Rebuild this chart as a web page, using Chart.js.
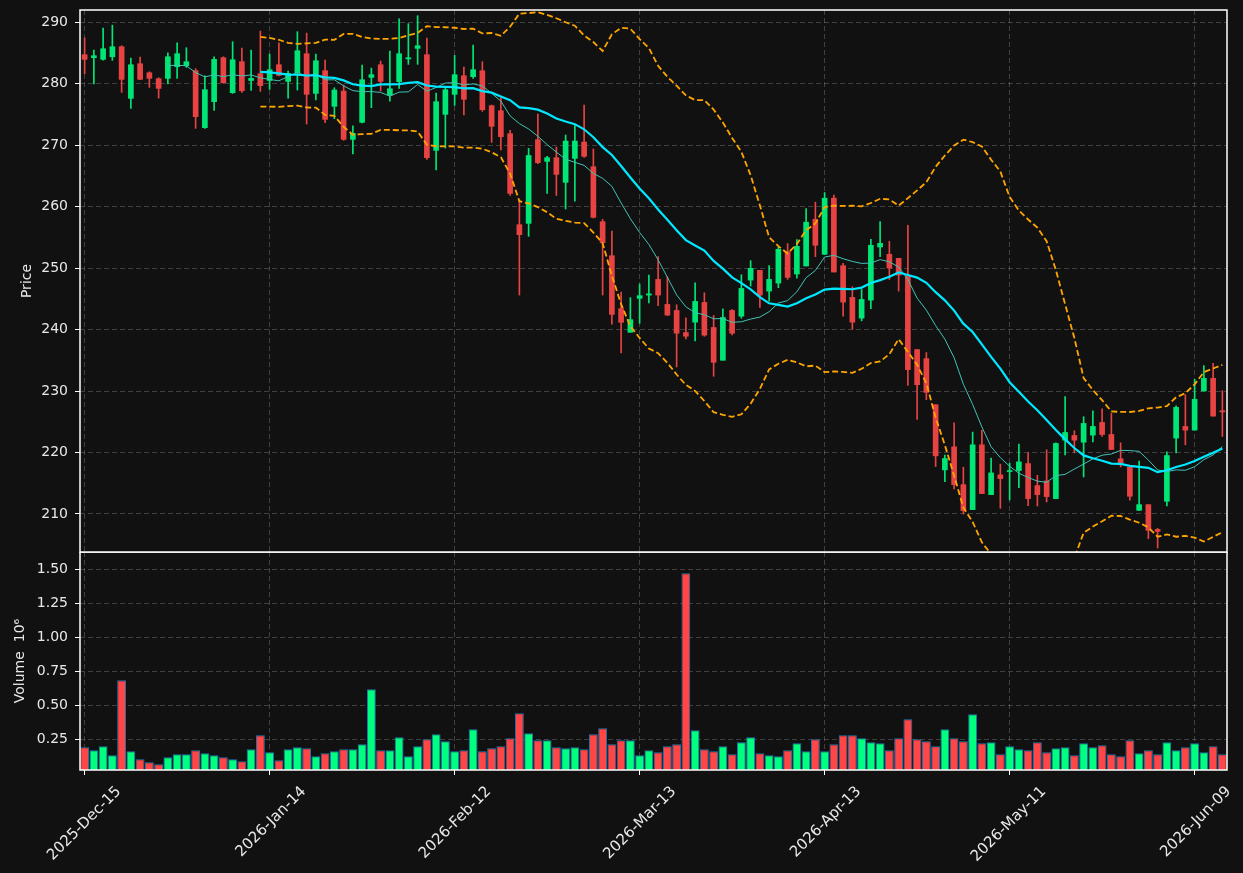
<!DOCTYPE html>
<html>
<head>
<meta charset="utf-8">
<title>Candlestick chart</title>
<script src="https://cdn.jsdelivr.net/npm/chart.js@4.4.1/dist/chart.umd.min.js"></script>
<style>
  html, body { margin: 0; padding: 0; background: #111111; }
  #wrap { position: relative; width: 1243px; height: 873px; overflow: hidden; }
  #priceChart { position: absolute; left: 0; top: 0; }
  #volChart { position: absolute; left: 0; top: 552px; }
</style>
</head>
<body>
<div id="wrap">
  <canvas id="priceChart" width="1243" height="560" style="width:1243px;height:560px"></canvas>
  <canvas id="volChart" width="1243" height="321" style="width:1243px;height:321px"></canvas>
</div>
<script>
// trading days (NYSE calendar)
const dates = [
  '2025-Dec-15','2025-Dec-16','2025-Dec-17','2025-Dec-18','2025-Dec-19','2025-Dec-22','2025-Dec-23','2025-Dec-24','2025-Dec-26','2025-Dec-29',
  '2025-Dec-30','2025-Dec-31','2026-Jan-02','2026-Jan-05','2026-Jan-06','2026-Jan-07','2026-Jan-08','2026-Jan-09','2026-Jan-12','2026-Jan-13',
  '2026-Jan-14','2026-Jan-15','2026-Jan-16','2026-Jan-20','2026-Jan-21','2026-Jan-22','2026-Jan-23','2026-Jan-26','2026-Jan-27','2026-Jan-28',
  '2026-Jan-29','2026-Jan-30','2026-Feb-02','2026-Feb-03','2026-Feb-04','2026-Feb-05','2026-Feb-06','2026-Feb-09','2026-Feb-10','2026-Feb-11',
  '2026-Feb-12','2026-Feb-13','2026-Feb-17','2026-Feb-18','2026-Feb-19','2026-Feb-20','2026-Feb-23','2026-Feb-24','2026-Feb-25','2026-Feb-26',
  '2026-Feb-27','2026-Mar-02','2026-Mar-03','2026-Mar-04','2026-Mar-05','2026-Mar-06','2026-Mar-09','2026-Mar-10','2026-Mar-11','2026-Mar-12',
  '2026-Mar-13','2026-Mar-16','2026-Mar-17','2026-Mar-18','2026-Mar-19','2026-Mar-20','2026-Mar-23','2026-Mar-24','2026-Mar-25','2026-Mar-26',
  '2026-Mar-27','2026-Mar-30','2026-Mar-31','2026-Apr-01','2026-Apr-02','2026-Apr-06','2026-Apr-07','2026-Apr-08','2026-Apr-09','2026-Apr-10',
  '2026-Apr-13','2026-Apr-14','2026-Apr-15','2026-Apr-16','2026-Apr-17','2026-Apr-20','2026-Apr-21','2026-Apr-22','2026-Apr-23','2026-Apr-24',
  '2026-Apr-27','2026-Apr-28','2026-Apr-29','2026-Apr-30','2026-May-01','2026-May-04','2026-May-05','2026-May-06','2026-May-07','2026-May-08',
  '2026-May-11','2026-May-12','2026-May-13','2026-May-14','2026-May-15','2026-May-18','2026-May-19','2026-May-20','2026-May-21','2026-May-22',
  '2026-May-26','2026-May-27','2026-May-28','2026-May-29','2026-Jun-01','2026-Jun-02','2026-Jun-03','2026-Jun-04','2026-Jun-05','2026-Jun-08',
  '2026-Jun-09','2026-Jun-10','2026-Jun-11','2026-Jun-12'
];

const opens = [
  284.69, 284.20, 283.93, 284.36, 285.99, 277.59, 283.22, 281.76, 280.79, 280.84,
  282.74, 282.90, 282.09, 272.82, 277.05, 284.20, 278.51, 283.55, 280.50, 281.60,
  280.50, 283.06, 280.35, 281.76, 284.85, 278.40, 282.09, 276.29, 278.78, 270.92,
  273.69, 281.00, 283.06, 278.13, 280.30, 284.00, 285.72, 284.69, 269.13, 274.99,
  278.24, 281.27, 281.11, 282.09, 276.40, 275.58, 271.84, 257.05, 257.26, 270.87,
  267.34, 267.94, 263.93, 267.83, 270.49, 266.48, 257.53, 252.00, 243.39, 239.55,
  245.07, 245.60, 248.15, 244.08, 243.10, 239.51, 241.20, 244.40, 240.33, 235.00,
  243.10, 242.17, 248.04, 249.62, 246.25, 247.55, 252.66, 249.02, 250.33, 257.93,
  252.23, 261.36, 250.38, 245.22, 241.85, 244.78, 253.42, 252.23, 251.58, 248.70,
  236.74, 235.27, 227.77, 217.17, 220.92, 214.78, 210.71, 221.25, 213.15, 216.36,
  216.90, 217.07, 218.20, 214.62, 215.38, 212.50, 222.01, 222.77, 221.68, 222.83,
  224.89, 222.93, 218.97, 217.61, 210.60, 211.52, 207.50, 212.07, 222.34, 224.24,
  223.64, 230.00, 232.07, 226.79
];
const highs = [
  287.45, 285.45, 289.02, 289.50, 286.15, 284.15, 284.31, 281.92, 280.95, 285.01,
  286.64, 285.83, 282.41, 281.27, 284.36, 284.36, 286.80, 285.77, 285.45, 288.54,
  284.80, 286.64, 282.03, 288.43, 288.21, 284.80, 283.82, 279.32, 279.76, 273.14,
  283.00, 282.52, 283.66, 285.28, 290.54, 289.73, 291.03, 287.40, 278.46, 279.49,
  284.58, 282.68, 286.26, 283.55, 276.50, 277.70, 272.38, 260.89, 269.46, 275.04,
  268.16, 269.67, 271.63, 273.36, 276.50, 269.35, 257.91, 256.02, 246.10, 245.18,
  247.40, 248.86, 251.85, 248.59, 244.02, 241.90, 247.61, 245.98, 242.28, 243.37,
  243.26, 248.91, 251.20, 249.62, 250.38, 253.37, 253.97, 254.62, 259.67, 260.71,
  262.28, 261.85, 250.76, 246.96, 246.52, 254.67, 257.55, 254.35, 251.58, 256.96,
  236.74, 236.25, 227.77, 219.57, 224.84, 217.61, 223.32, 223.59, 219.08, 218.10,
  218.26, 221.36, 220.00, 216.30, 220.43, 221.58, 229.08, 223.53, 225.82, 226.79,
  227.12, 226.36, 221.58, 217.61, 218.59, 211.52, 207.66, 220.11, 227.61, 229.40,
  231.90, 234.13, 234.51, 230.05
];
const lows = [
  281.60, 279.92, 283.80, 283.77, 278.56, 275.96, 280.62, 279.38, 277.64, 279.92,
  280.84, 282.63, 272.71, 272.71, 275.64, 280.03, 278.40, 278.56, 278.89, 278.73,
  279.05, 281.22, 277.64, 278.94, 273.41, 277.32, 273.63, 274.28, 270.76, 268.54,
  273.58, 276.07, 278.78, 277.15, 279.21, 283.12, 283.12, 267.67, 265.94, 269.51,
  276.45, 274.88, 280.84, 275.47, 270.43, 269.19, 261.80, 245.61, 255.15, 266.96,
  262.14, 261.80, 259.60, 260.89, 268.00, 258.13, 245.61, 240.89, 236.18, 239.55,
  241.00, 244.31, 243.86, 242.30, 233.91, 238.48, 238.15, 238.91, 232.39, 235.00,
  239.13, 241.85, 247.07, 243.59, 244.62, 246.79, 248.15, 248.37, 250.33, 251.85,
  252.23, 249.35, 242.17, 240.05, 241.41, 243.37, 251.85, 248.15, 246.25, 230.92,
  225.38, 228.59, 217.72, 215.27, 214.08, 210.00, 210.71, 213.32, 213.15, 210.92,
  212.28, 214.29, 211.36, 211.30, 211.96, 212.50, 219.62, 219.95, 216.03, 221.74,
  222.61, 220.49, 217.66, 212.23, 210.60, 205.98, 204.46, 211.30, 219.95, 221.25,
  223.64, 230.00, 225.92, 222.61
];
const closes = [
  283.93, 284.53, 285.66, 285.99, 280.68, 283.06, 280.68, 280.84, 279.21, 284.36,
  284.85, 283.55, 274.61, 279.00, 283.93, 280.14, 283.87, 278.83, 280.84, 279.65,
  282.25, 281.33, 281.65, 285.34, 278.24, 283.71, 274.17, 278.94, 270.92, 271.90,
  280.62, 281.44, 280.35, 279.16, 284.85, 284.20, 286.15, 267.94, 277.05, 279.00,
  281.44, 277.43, 282.25, 275.75, 273.04, 271.35, 262.14, 255.42, 268.30, 267.13,
  267.94, 265.23, 270.65, 270.65, 268.16, 258.24, 254.12, 242.46, 241.17, 241.60,
  245.50, 245.80, 245.60, 242.34, 239.40, 238.91, 244.57, 239.08, 234.67, 241.96,
  239.40, 246.68, 249.95, 245.60, 248.15, 253.04, 248.48, 253.53, 257.45, 253.70,
  261.36, 249.35, 244.46, 241.20, 244.89, 253.70, 254.02, 250.00, 248.86, 233.48,
  231.03, 229.78, 219.46, 219.02, 214.78, 210.54, 221.25, 213.32, 216.68, 215.76,
  217.00, 218.48, 212.50, 213.15, 212.83, 221.47, 223.26, 222.01, 224.73, 224.24,
  222.93, 220.49, 218.32, 212.88, 211.52, 207.34, 207.17, 219.51, 227.34, 223.64,
  228.64, 232.07, 225.92, 226.60
];
const volumes = [
  191000, 169000, 199000, 132000, 684000, 162000, 103000, 81000, 66000, 118000,
  140000, 140000, 169000, 147000, 132000, 118000, 103000, 88000, 176000, 279000,
  154000, 96000, 176000, 191000, 184000, 125000, 147000, 162000, 176000, 176000,
  213000, 618000, 169000, 169000, 265000, 125000, 199000, 250000, 287000, 235000,
  162000, 169000, 324000, 162000, 184000, 199000, 257000, 441000, 294000, 243000,
  243000, 191000, 184000, 191000, 176000, 287000, 331000, 213000, 243000, 243000,
  132000, 169000, 154000, 199000, 213000, 1470000, 316000, 176000, 162000, 199000,
  140000, 228000, 265000, 147000, 132000, 125000, 169000, 221000, 162000, 250000,
  162000, 213000, 279000, 279000, 257000, 228000, 221000, 169000, 257000, 397000,
  250000, 235000, 199000, 324000, 257000, 235000, 434000, 221000, 228000, 140000,
  199000, 176000, 169000, 228000, 154000, 184000, 191000, 132000, 221000, 191000,
  206000, 140000, 125000, 243000, 147000, 169000, 140000, 228000, 169000, 191000,
  221000, 154000, 199000, 140000
];

const priceTicks = [210, 220, 230, 240, 250, 260, 270, 280, 290];
const volumeTicks = [250000, 500000, 750000, 1000000, 1250000, 1500000];
const tickEvery = 20;

// moving averages from the closes
function sma(vals, n) {
  return vals.map((v, i) => {
    if (i < n - 1) return null;
    let s = 0;
    for (let k = i - n + 1; k <= i; k++) s += vals[k];
    return s / n;
  });
}
function band(vals, n, mult) {
  const mid = sma(vals, n);
  return vals.map((v, i) => {
    if (mid[i] === null) return null;
    let s = 0;
    for (let k = i - n + 1; k <= i; k++) s += (vals[k] - mid[i]) ** 2;
    return mid[i] + mult * Math.sqrt(s / n);
  });
}
const ma20 = sma(closes, 20);
const ma10 = sma(closes, 10);
const bbUpper = band(closes, 20, 2);
const bbLower = band(closes, 20, -2);

const isUp = closes.map((c, i) => c >= opens[i]);
const candleUp = '#00e676', candleDown = '#e84343';
const volUp = '#00ff80', volDown = '#ff4646';
const gridColor = 'rgba(255,255,255,0.2)';
const textColor = '#e8e8e8';
const font = { family: 'DejaVu Sans', size: 14 };
const dateFont = { family: 'DejaVu Sans', size: 15 };

const frame = {
  id: 'frame',
  afterDraw(chart) {
    const { ctx, chartArea: a } = chart;
    ctx.save();
    ctx.strokeStyle = '#ffffff';
    ctx.lineWidth = 1.5;
    ctx.strokeRect(a.left, a.top, a.right - a.left, a.bottom - a.top);
    ctx.restore();
  }
};

const keepDateTicks = s => { s.ticks = s.ticks.filter(t => t.value % tickEvery === 0); };
// no extra room for label overhang, the panels must line up exactly
const noOverhang = s => { s.paddingTop = 0; s.paddingBottom = 0; s.paddingLeft = 0; s.paddingRight = 0; };

new Chart(document.getElementById('priceChart'), {
  type: 'bar',
  data: {
    labels: dates,
    datasets: [
      { type: 'line', data: ma20, borderColor: '#00e8ff', borderWidth: 2.2, pointRadius: 0, order: 0 },
      { type: 'line', data: ma10, borderColor: '#3fc4b6', borderWidth: 1, pointRadius: 0, order: 0 },
      { type: 'line', data: bbUpper, borderColor: '#ffa500', borderWidth: 1.8, borderDash: [6, 3], pointRadius: 0, order: 0 },
      { type: 'line', data: bbLower, borderColor: '#ffa500', borderWidth: 1.8, borderDash: [6, 3], pointRadius: 0, order: 0 },
      {
        data: opens.map((o, i) => [o, closes[i]]),
        backgroundColor: isUp.map(u => u ? candleUp : candleDown),
        barThickness: 5, minBarLength: 1, grouped: false, order: 1
      },
      {
        data: lows.map((l, i) => [l, highs[i]]),
        backgroundColor: isUp.map(u => u ? candleUp : candleDown),
        barThickness: 1, grouped: false, order: 2
      }
    ]
  },
  options: {
    responsive: false,
    animation: false,
    devicePixelRatio: 1,
    layout: { padding: { top: 10, right: 16, bottom: 8, left: 0 } },
    plugins: { legend: { display: false }, tooltip: { enabled: false } },
    scales: {
      x: {
        offset: true,
        afterBuildTicks: keepDateTicks,
        afterFit: s => { s.height = 0; noOverhang(s); },
        ticks: { display: false, autoSkip: false },
        grid: { color: gridColor, offset: false, drawTicks: false },
        border: { display: false, dash: [5, 3] }
      },
      y: {
        min: 203.82,
        max: 291.96,
        afterBuildTicks: s => { s.ticks = priceTicks.map(v => ({ value: v })); },
        afterFit: s => { s.width = 80; noOverhang(s); },
        ticks: { color: textColor, font: font, padding: 7 },
        grid: { color: gridColor, tickColor: '#ffffff', tickLength: 5 },
        border: { display: false, dash: [5, 3] },
        title: { display: true, text: 'Price', color: textColor, font: font, padding: { top: 19, bottom: 0 } }
      }
    }
  },
  plugins: [frame]
});

new Chart(document.getElementById('volChart'), {
  type: 'bar',
  data: {
    labels: dates,
    datasets: [{
      data: volumes,
      backgroundColor: isUp.map(u => u ? volUp : volDown),
      borderColor: '#1f77b4',
      borderWidth: 1,
      barPercentage: 0.96,
      categoryPercentage: 1
    }]
  },
  options: {
    responsive: false,
    animation: false,
    devicePixelRatio: 1,
    layout: { padding: { top: 0, right: 16, bottom: 0, left: 0 } },
    plugins: { legend: { display: false }, tooltip: { enabled: false } },
    scales: {
      x: {
        offset: true,
        afterBuildTicks: keepDateTicks,
        afterFit: s => { s.height = 103; noOverhang(s); },
        ticks: { color: textColor, font: dateFont, autoSkip: false, maxRotation: 45, minRotation: 45, labelOffset: 34, padding: 8 },
        grid: { color: gridColor, offset: false, tickColor: '#ffffff', tickLength: 5 },
        border: { display: false, dash: [5, 3] }
      },
      y: {
        min: 24300,
        max: 1627000,
        afterBuildTicks: s => { s.ticks = volumeTicks.map(v => ({ value: v })); },
        afterFit: s => { s.width = 80; noOverhang(s); },
        ticks: { color: textColor, font: font, padding: 7, callback: v => (v / 1e6).toFixed(2) },
        grid: { color: gridColor, tickColor: '#ffffff', tickLength: 5 },
        border: { display: false, dash: [5, 3] },
        title: { display: true, text: 'Volume  10\u2076', color: textColor, font: font, padding: { top: 12, bottom: 0 } }
      }
    }
  },
  plugins: [frame]
});
</script>
</body>
</html>
